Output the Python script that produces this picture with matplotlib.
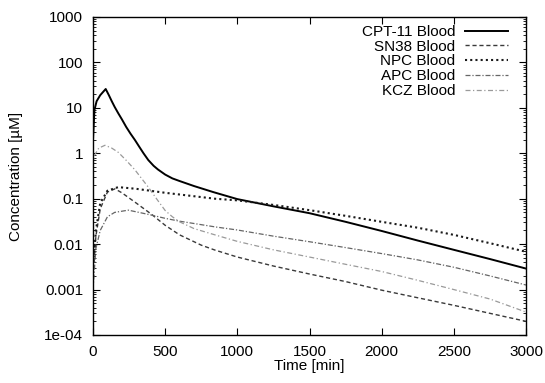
import matplotlib
matplotlib.use("Agg")
import matplotlib.pyplot as plt
from matplotlib.ticker import LogLocator, FixedLocator

plt.rcParams["font.family"] = ["Liberation Sans", "DejaVu Sans"]

# ── data (time in min, concentration in µM) ────────────────────────────────
t_cpt = [0, 10, 25, 50, 88, 110, 130, 150, 175, 200, 230, 260, 291, 320, 350,
         383, 420, 450, 500, 550, 600, 700, 833, 1000, 1250, 1500, 1750, 2000,
         2250, 2500, 2750, 3000]
c_cpt = [2.0, 9, 14, 19, 26, 19, 14, 10.5, 7.6, 5.6, 3.8, 2.7, 1.95, 1.4, 1.0,
         0.71, 0.53, 0.44, 0.34, 0.28, 0.245, 0.19, 0.14, 0.098, 0.068, 0.048,
         0.031, 0.0195, 0.012, 0.0075, 0.0047, 0.0029]

t_sn38 = [0, 20, 50, 100, 152, 200, 300, 407, 500, 600, 750, 845, 1000, 1250,
          1500, 1750, 2000, 2250, 2500, 2750, 3000]
c_sn38 = [0.002, 0.015, 0.06, 0.14, 0.165, 0.135, 0.08, 0.045, 0.026, 0.016, 0.0095,
          0.0074, 0.0052, 0.0033, 0.0022, 0.0015, 0.00097, 0.00066, 0.00045, 0.0003,
          0.0002]

t_npc = [0, 20, 50, 100, 175, 300, 500, 845, 1000, 1250, 1500,
         1750, 2000, 2250, 2500, 2750, 3000]
c_npc = [0.003, 0.02, 0.08, 0.15, 0.18, 0.165, 0.135, 0.10, 0.092,
         0.073, 0.056, 0.042, 0.031, 0.023, 0.016, 0.0105, 0.0068]

t_apc = [0, 20, 50, 100, 150, 245, 400, 500, 600, 845, 1000, 1250, 1500, 1750,
         2000, 2250, 2500, 2750, 3000]
c_apc = [0.001, 0.008, 0.02, 0.04, 0.05, 0.056, 0.044, 0.037, 0.032, 0.024, 0.0205,
         0.015, 0.0113, 0.0084, 0.0062, 0.0045, 0.0031, 0.002, 0.00126]

t_kcz = [0, 10, 40, 83, 130, 175, 230, 291, 340, 383, 440, 500, 550, 600, 700,
         845, 1000, 1250, 1500, 1750, 2000, 2250, 2500, 2750, 3000]
c_kcz = [0.5, 0.9, 1.3, 1.5, 1.3, 1.05, 0.7, 0.43, 0.27, 0.18, 0.1, 0.055, 0.04,
         0.031, 0.022, 0.016, 0.0115, 0.0075, 0.0052, 0.0036, 0.0025, 0.0016,
         0.001, 0.00062, 0.00032]

x_ticks = [0, 500, 1000, 1500, 2000, 2500, 3000]
y_ticks = [1e-4, 1e-3, 1e-2, 1e-1, 1, 10, 100, 1000]
y_labels = ["1e-04", "0.001", "0.01", "0.1", "1", "10", "100", "1000"]

fig = plt.figure(figsize=(5.45, 3.83), dpi=100)
ax = fig.add_axes([93 / 545, 48 / 383, 433 / 545, 318 / 383])

ax.plot(t_cpt, c_cpt, color="black", lw=1.4, label="CPT-11 Blood")
ax.plot(t_sn38, c_sn38, color="#3a3a3a", lw=1.0, ls=(0, (3, 2)), label="SN38 Blood")
ax.plot(t_npc, c_npc, color="#1a1a1a", lw=1.5, ls=(0, (1, 1.5)), label="NPC Blood")
ax.plot(t_apc, c_apc, color="#666666", lw=0.9, ls=(0, (4, 1.5, 1, 1.5)), label="APC Blood")
ax.plot(t_kcz, c_kcz, color="#9a9a9a", lw=0.9, ls=(0, (4, 2, 1, 2)), label="KCZ Blood")

ax.set_yscale("log")
ax.set_xlim(0, 3000)
ax.set_ylim(1e-4, 1000)
ax.set_xticks(x_ticks)
ax.yaxis.set_major_locator(FixedLocator(y_ticks))
ax.set_yticklabels(y_labels)
ax.yaxis.set_minor_locator(LogLocator(base=10, subs=range(2, 10)))
ax.tick_params(which="both", direction="in", top=True, right=True, labelsize=11)
ax.tick_params(which="major", length=5, width=0.8, pad=7)
ax.tick_params(which="minor", length=2.5, width=0.6)
for s in ax.spines.values():
    s.set_linewidth(1.0)

ax.set_xlabel("Time [min]", fontsize=11, labelpad=0)
ax.set_ylabel("Concentration [\u00b5M]", fontsize=11, labelpad=15)

ax.legend(loc="upper right", bbox_to_anchor=(0.958, 0.975), frameon=False,
          markerfirst=False, fontsize=11, handlelength=2.8, labelspacing=0.05,
          borderaxespad=0, handletextpad=0.65, borderpad=0)

fig.savefig("out.png", dpi=100)
